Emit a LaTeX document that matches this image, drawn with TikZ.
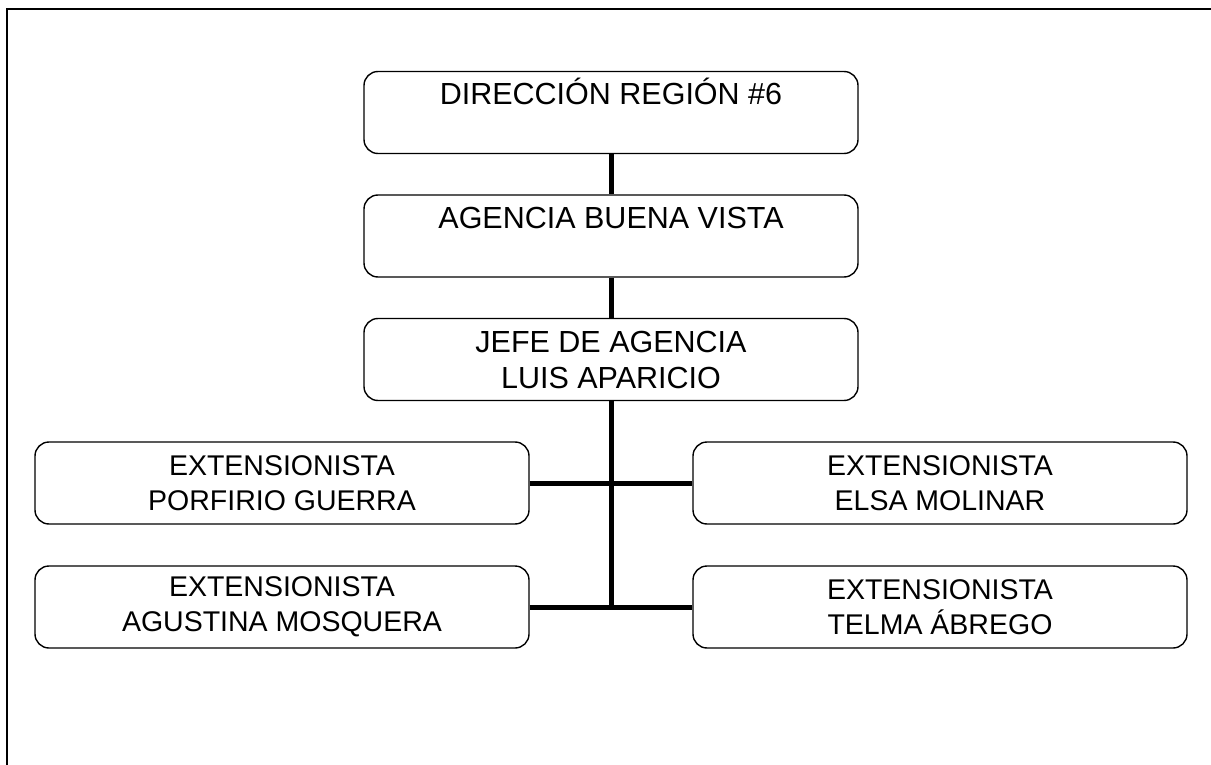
\documentclass[tikz,border=0pt]{standalone}
\usepackage{fontspec}
\setmainfont{Liberation Sans}
\begin{document}
\begin{tikzpicture}[x=1pt,y=-1pt,
  box/.style={draw, rounded corners=14pt, line width=1.4pt, minimum width=494pt,
    minimum height=82pt, inner sep=0pt},
  bigtxt/.style={font=\fontsize{30.5}{36}\selectfont},
  smalltxt/.style={font=\fontsize{28.5}{35}\selectfont},
  onel/.style={bigtxt, text height=22pt, text depth=37pt},
  twol/.style={align=center},
  conn/.style={line width=5pt},
  framestyle/.style={line width=2.3pt}]
\useasboundingbox (0,0) rectangle (1211,765);
\coordinate (fr1) at (1225,9);
\coordinate (fr2) at (7,9);
\coordinate (fr3) at (7,780);
\draw[framestyle] (fr1) -- (fr2) -- (fr3);

\node[box,onel] (dir) at (611,112.5) {DIRECCIÓN REGIÓN \#6};
\node[box,onel] (agen) at (611,236) {AGENCIA BUENA VISTA};
\node[box,twol,bigtxt] (jefe) at (611,359.5) {JEFE DE AGENCIA\\LUIS APARICIO};
\node[box,twol,smalltxt] (porf) at (282,483) {EXTENSIONISTA\\PORFIRIO GUERRA};
\node[box,twol,smalltxt] (elsa) at (940,483) {EXTENSIONISTA\\ELSA MOLINAR};
\node[box,twol,smalltxt] (agus) at (282,607) {EXTENSIONISTA\\AGUSTINA MOSQUERA};
\node[box,twol,smalltxt] (telm) at (940,607) {EXTENSIONISTA\\TELMA ÁBREGO};

\draw[conn] (dir.south) -- (agen.north);
\draw[conn] (agen.south) -- (jefe.north);
\draw[conn] (jefe.south) -- (jefe.south |- agus.east);
\draw[conn] (porf.east) -- (elsa.west);
\draw[conn] (agus.east) -- (telm.west);
\end{tikzpicture}
\end{document}
